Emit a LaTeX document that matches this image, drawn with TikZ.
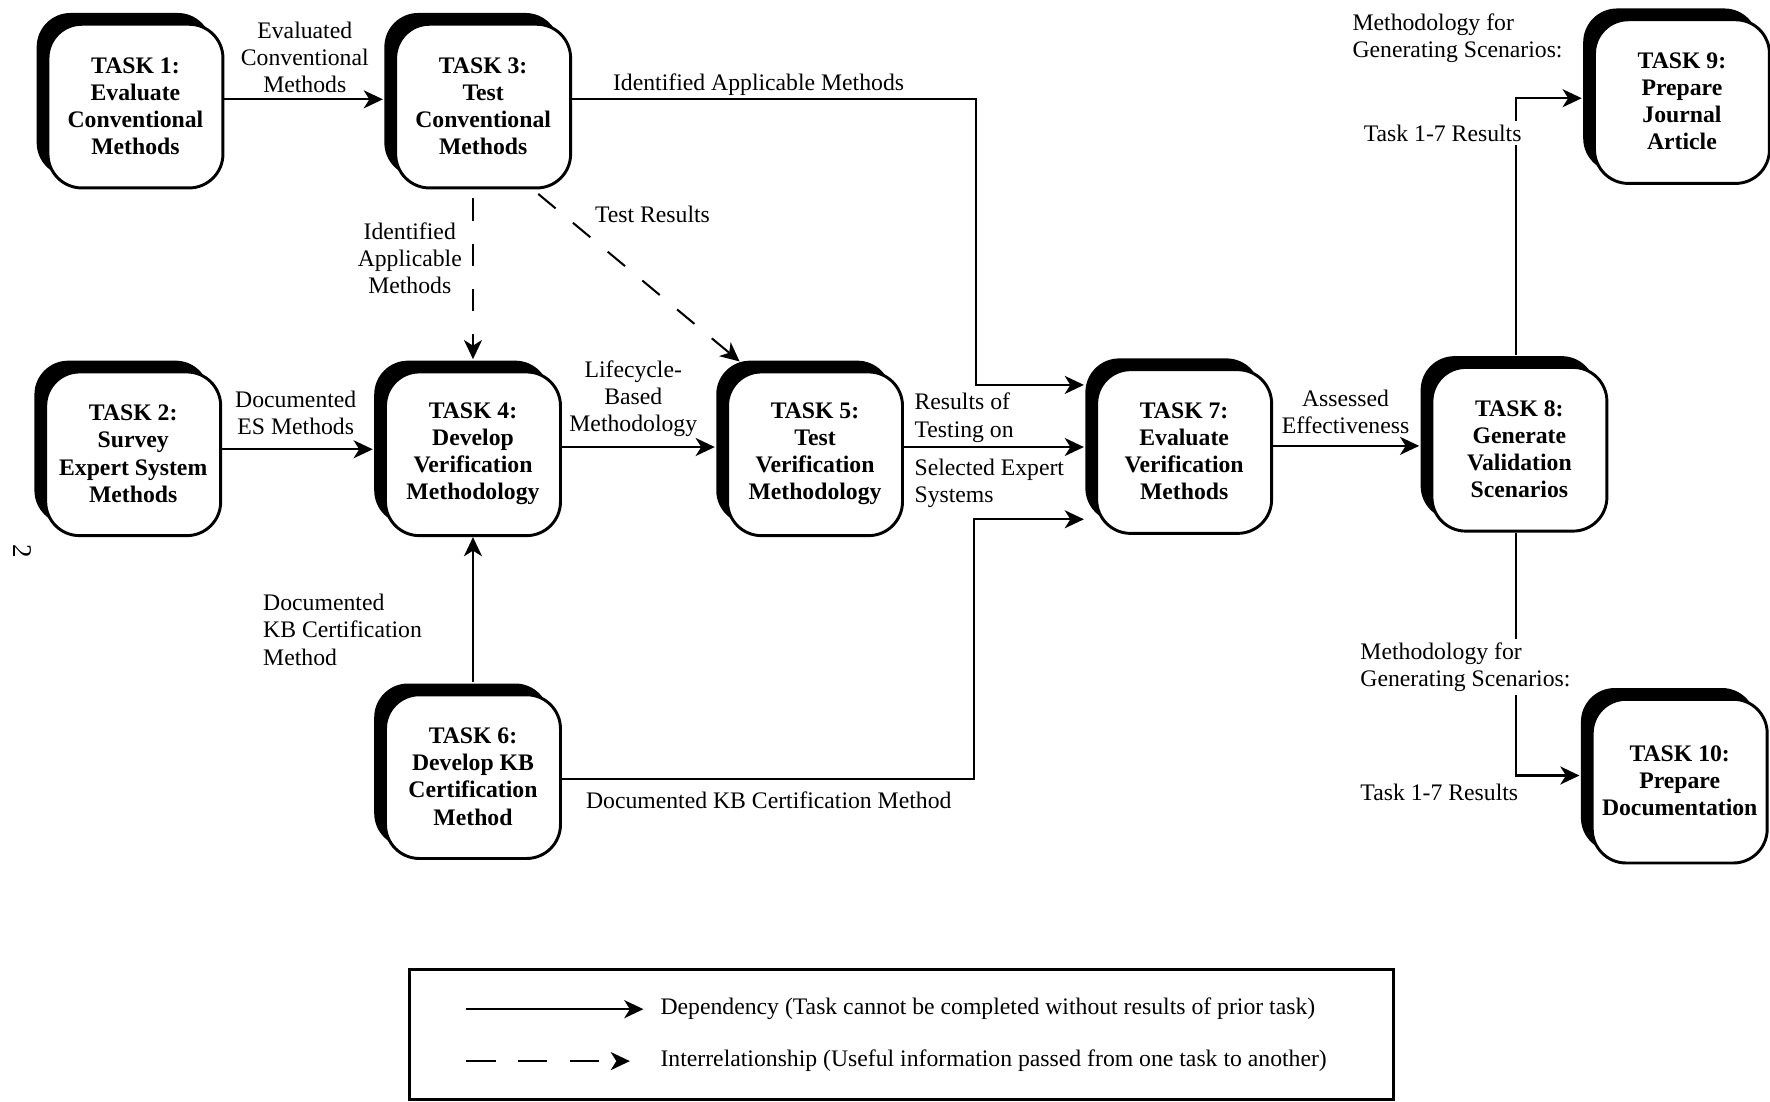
\documentclass[tikz,border=0pt]{standalone}
\usepackage{fontspec}
\setmainfont{Liberation Serif}
\usetikzlibrary{arrows.meta,shadows,calc}
\begin{document}
\begin{tikzpicture}[x=1pt,y=-1pt,
  txt/.style={font=\fontsize{21}{24}\selectfont, inner sep=0pt, align=center},
  lbl/.style={txt, fill=white, inner sep=3pt},
  task/.style={draw=black, line width=2.6pt, fill=white, rounded corners=30pt,
     minimum width=155pt, minimum height=145pt, align=center, inner sep=0pt,
     font=\fontsize{21}{24}\selectfont\bfseries,
     drop shadow={shadow xshift=-10pt, shadow yshift=10pt, fill=black, opacity=1}},
  arr/.style={line width=1.8pt, -{Stealth[length=17pt,width=16pt,inset=5pt]}},
  darr/.style={arr, dash pattern=on 20pt off 20pt},
  into/.style={shorten >=10pt}
]
\useasboundingbox[fill=white] (0,0) rectangle (1568,976);

% task boxes
\node[task] (t1) at (120,94) {TASK 1:\\Evaluate\\Conventional\\Methods};
\node[task] (t3) at (428,94) {TASK 3:\\Test\\Conventional\\Methods};
\node[task] (t2) at (118,402) {TASK 2:\\Survey\\Expert System\\Methods};
\node[task] (t4) at (419,402) {TASK 4:\\Develop\\Verification\\Methodology};
\node[task] (t5) at (722,402) {TASK 5:\\Test\\Verification\\Methodology};
\node[task] (t7) at (1049,400) {TASK 7:\\Evaluate\\Verification\\Methods};
\node[task] (t8) at (1346,398) {TASK 8:\\Generate\\Validation\\Scenarios};
\node[task] (t9) at (1490,90) {TASK 9:\\Prepare\\Journal\\Article};
\node[task] (t6) at (419,688) {TASK 6:\\Develop KB\\Certification\\Method};
\node[task] (t10) at (1488,692) {TASK 10:\\Prepare\\Documentation};

% helper coordinates
\coordinate (t8n) at ($(t8.north)+(-3,-10)$);
\coordinate (t8s) at ($(t8.south)+(-3,0)$);
\coordinate (t3d) at ($(t4.north |- t3.south)+(0,8)$);
\coordinate (t6n) at ($(t6.north)+(0,-10)$);

% connectors
\draw[arr,into] (t1.east |- 0,88) -- (t3.west |- 0,88);
\draw[arr,into] (t3.east |- 0,88) -- (865,88) -- (865,341) -- (t7.west |- 0,341);
\draw[darr,into] (t3d) -- (t4.north);
\draw[darr] ($(t3.south east)+(-30,4)$) -- ($(t5.north west)+(12,-8)$);
\draw[arr,into] (t2.east |- 0,398) -- (t4.west |- 0,398);
\draw[arr,into] (t4.east |- 0,396) -- (t5.west |- 0,396);
\draw[arr,into] (t5.east |- 0,396) -- (t7.west |- 0,396);
\draw[arr] (t6n) -- (t4.south);
\draw[arr,into] (t6.east |- 0,690) -- (863,690) -- (863,460) -- (t7.west |- 0,460);
\draw[arr,into] (t7.east |- 0,395) -- (t8.west |- 0,395);
\draw[arr,into] (t8n) -- (t8n |- 0,87) -- (t9.west |- 0,87);
\draw[arr,into] (t8s) -- (t8s |- 0,687) -- (t10.west |- 0,687);

% labels
\node[txt] (l13) at (270,51) {Evaluated\\Conventional\\Methods};
\node[txt] (l37) at (672,75) {Identified Applicable Methods};
\node[txt] (l34) at (363,229) {Identified\\Applicable\\Methods};
\node[txt] (l35) at (578,190) {Test Results};
\node[txt] (l24) at (262,366) {Documented\\ES Methods};
\node[txt] (l45) at (561,353) {Lifecycle-\\Based\\Methodology};
\node[txt,align=left,anchor=west] (l57a) at (810,370) {Results of\\Testing on};
\node[txt,align=left,anchor=west] (l57b) at (810,428) {Selected Expert\\Systems};
\node[txt,align=left,anchor=west] (l64) at (233,558) {Documented\\KB Certification\\Method};
\node[txt] (l67) at (681,709) {Documented KB Certification Method};
\node[txt] (l78) at (1192,365) {Assessed\\Effectiveness};
\node[txt,align=left,anchor=west] (l89a) at (1198,34) {Methodology for\\Generating Scenarios:};
\node[lbl] (l89b) at (1278,118) {Task 1-7 Results};
\node[lbl,align=left,anchor=west] (l810a) at (1202,591) {Methodology for\\Generating Scenarios:};
\node[txt,align=left,anchor=west] (l810b) at (1205,702) {Task 1-7 Results};

% page number
\node[font=\fontsize{24}{24}\selectfont,rotate=-90] (pg) at (20,488) {2};

% legend
\node[draw, line width=2.4pt, minimum width=872pt, minimum height=115pt, inner sep=0pt] (legend) at (798.5,916.5) {};
\coordinate (la1) at (413,894); \coordinate (lb1) at (570,894);
\coordinate (la2) at (413,940); \coordinate (lb2) at (558,940);
\draw[arr] (la1) -- (lb1);
\draw[arr, dash pattern=on 26pt off 20pt] (la2) -- (lb2);
\node[txt,anchor=west] (lt1) at (585,894) {Dependency (Task cannot be completed without results of prior task)};
\node[txt,anchor=west] (lt2) at (585,940) {Interrelationship (Useful information passed from one task to another)};
\end{tikzpicture}
\end{document}
